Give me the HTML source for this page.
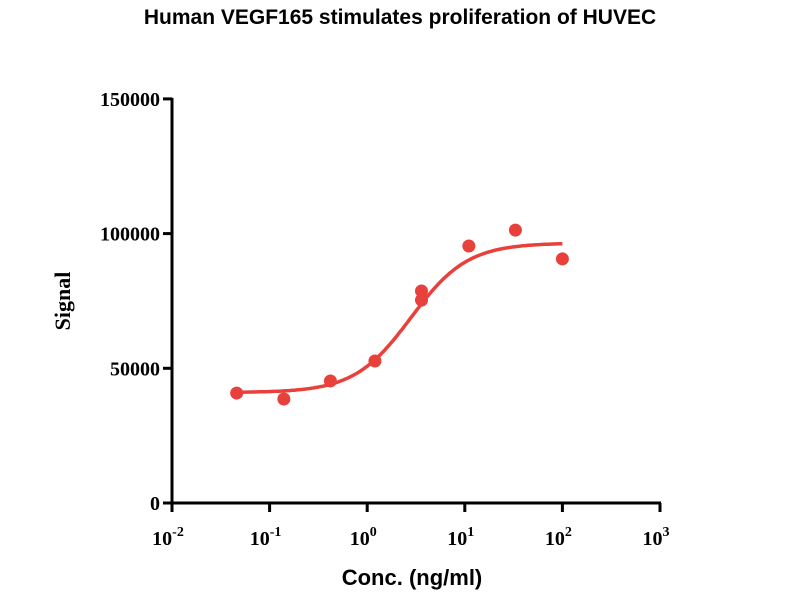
<!DOCTYPE html>
<html><head><meta charset="utf-8"><style>
body{margin:0;background:#fff;}
svg{display:block;}
.tk{font-family:"Liberation Serif",serif;font-weight:bold;font-size:20px;fill:#000;}
</style></head><body>
<svg id="chart" width="800" height="600" xmlns="http://www.w3.org/2000/svg">
<text x="400" y="24" text-anchor="middle" font-family="Liberation Sans, sans-serif" font-weight="bold" font-size="21">Human VEGF165 stimulates proliferation of HUVEC</text>
<g id="axes"></g>
<g id="marks"></g>
<text transform="translate(70,301) rotate(-90)" text-anchor="middle" font-family="Liberation Serif, serif" font-weight="bold" font-size="22">Signal</text>
<text x="412" y="585" text-anchor="middle" font-family="Liberation Sans, sans-serif" font-weight="bold" font-size="22">Conc. (ng/ml)</text>
</svg>
<script>
const concs=[0.046,0.14,0.42,1.2,3.6,3.6,11,33,100];
const signals=[40800,38600,45300,52700,75300,78700,95400,101300,90600];
const yTicks=[0,50000,100000,150000];
const xExps=[-2,-1,0,1,2,3];
const fitBottom=41000, fitTop=96500, fitEC50=2.8, fitHill=1.5;
const fitRange=[0.046,100];

const NS="http://www.w3.org/2000/svg";
const x0=172,pxDec=97.6,y0=503,pxPer=134.7/50000;
const X=v=>x0+(Math.log10(v)+2)*pxDec;
const Y=v=>y0-v*pxPer;
const axes=document.getElementById('axes'),marks=document.getElementById('marks');
function mk(tag,attrs,parent){const e=document.createElementNS(NS,tag);for(const k in attrs)e.setAttribute(k,attrs[k]);parent.appendChild(e);return e;}
let e=mk('line',{x1:x0,y1:Y(150000)-1,x2:x0,y2:y0+1.5,stroke:'#000','stroke-width':3},axes);


e=mk('line',{x1:x0-1.5,y1:y0,x2:X(1000)+1,y2:y0,stroke:'#000','stroke-width':3},axes);


yTicks.forEach(t=>{
  const y=Y(t);
  const l=mk('line',{x1:x0-9,y1:y,x2:x0,y2:y,stroke:'#000','stroke-width':3},axes);
  
  
  const tx=mk('text',{x:x0-12,y:y+7,'text-anchor':'end',class:'tk'},axes);
  tx.textContent=t;
  
  
});
xExps.forEach(p=>{
  const x=X(Math.pow(10,p));
  const l=mk('line',{x1:x,y1:y0,x2:x,y2:y0+9,stroke:'#000','stroke-width':3},axes);
  
  
  const tx=mk('text',{x:x-4,y:y0+42,'text-anchor':'middle',class:'tk'},axes);
  
  
  const b=document.createElementNS(NS,'tspan');b.textContent='10';tx.appendChild(b);
  const s=document.createElementNS(NS,'tspan');s.setAttribute('dy','-9');s.setAttribute('font-size','14');s.textContent=String(p);tx.appendChild(s);
});
let d='';
const la=Math.log10(fitRange[0]),lb=Math.log10(fitRange[1]);
for(let i=0;i<=200;i++){const c=Math.pow(10,la+(lb-la)*i/200);
 const v=fitBottom+(fitTop-fitBottom)/(1+Math.pow(fitEC50/c,fitHill));
 d+=(i?'L':'M')+X(c).toFixed(1)+','+Y(v).toFixed(1);}
e=mk('path',{d:d,fill:'none',stroke:'#e8413c','stroke-width':3.5},marks);


concs.forEach((c,i)=>{
  const p=mk('circle',{cx:X(c),cy:Y(signals[i]),r:6.5,fill:'#e8413c'},marks);
  
  
});
</script>
</body></html>
